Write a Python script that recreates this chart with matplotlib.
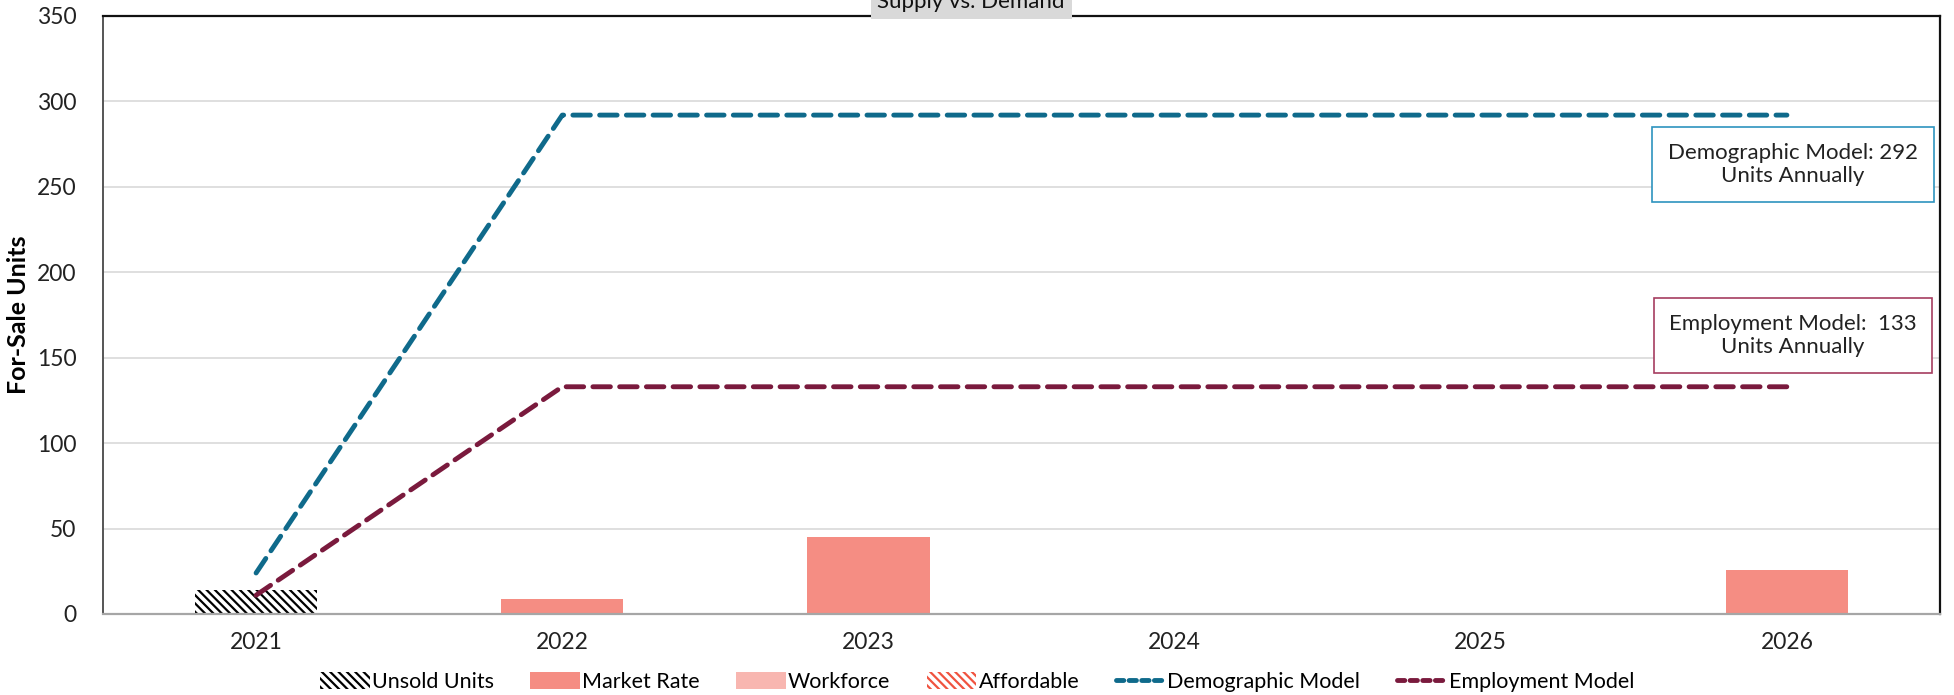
import matplotlib
matplotlib.use("Agg")
import matplotlib.pyplot as plt
from matplotlib.patches import Patch
from matplotlib.lines import Line2D
import numpy as np

plt.rcParams['font.family'] = ['Lato', 'DejaVu Sans']
plt.rcParams['hatch.linewidth'] = 1.6

years = ['2021', '2022', '2023', '2024', '2025', '2026']
unsold = [14, 0, 0, 0, 0, 0]
market_rate = [0, 9, 45, 0, 0, 26]
workforce = [0, 0, 0, 0, 0, 0]
affordable = [0, 0, 0, 0, 0, 0]
demographic = [24, 292, 292, 292, 292, 292]
employment = [11, 133, 133, 133, 133, 133]

c_market = '#F58D83'
c_work = '#F8B6B0'
c_aff = '#F0533F'
c_demo = '#0F6A8B'
c_emp = '#7A1A3D'

fig = plt.figure(figsize=(19.54, 6.95), dpi=100)
ax = fig.add_axes([103 / 1954, 1 - 614 / 695, (1940 - 103) / 1954, (614 - 16) / 695])

x = np.arange(len(years))
w = 0.4
ax.bar(x, unsold, w, color='white', edgecolor='black', hatch='\\\\\\\\', linewidth=0, zorder=2)
b = np.array(unsold, dtype=float)
ax.bar(x, market_rate, w, bottom=b, color=c_market, linewidth=0, zorder=2)
b += market_rate
ax.bar(x, workforce, w, bottom=b, color=c_work, linewidth=0, zorder=2)
b += workforce
ax.bar(x, affordable, w, bottom=b, color='white', edgecolor=c_aff, hatch='\\\\\\\\', linewidth=0, zorder=2)

ax.plot(x, demographic, color=c_demo, lw=3.5, dashes=(3.6, 1.9), dash_capstyle='round', zorder=3)
ax.plot(x, employment, color=c_emp, lw=3.5, dashes=(3.6, 1.9), dash_capstyle='round', zorder=3)

ax.set_xlim(-0.5, 5.5)
ax.set_ylim(0, 350)
ax.set_yticks(np.arange(0, 351, 50))
ax.set_xticks(x)
ax.set_xticklabels(years)
ax.tick_params(axis='both', length=0, labelsize=16.5, colors='#222222')
ax.tick_params(axis='x', pad=13)
ax.tick_params(axis='y', pad=19)
ax.yaxis.grid(True, color='#d9d9d9', lw=1.2, zorder=0)
ax.set_axisbelow(True)
for s in ['top', 'right']:
    ax.spines[s].set_color('#111111')
    ax.spines[s].set_linewidth(1.6)
ax.spines['left'].set_color('#555555')
ax.spines['left'].set_linewidth(1.4)
ax.spines['bottom'].set_color('#a6a6a6')
ax.spines['bottom'].set_linewidth(1.6)

ax.set_ylabel('For-Sale Units', fontsize=18, fontweight='bold')
ax.yaxis.set_label_coords(-0.0395, 0.5)

ax.text(5.02, 263, 'Demographic Model: 292\nUnits Annually', ha='center', va='center',
        fontsize=16, color='#222222', linespacing=1.2, zorder=4,
        bbox=dict(boxstyle='square,pad=0.7', fc='white', ec='#2E93BF', lw=1.2))
ax.text(5.02, 163, 'Employment Model:  133\nUnits Annually', ha='center', va='center',
        fontsize=16, color='#222222', linespacing=1.2, zorder=4,
        bbox=dict(boxstyle='square,pad=0.7', fc='white', ec='#A63D60', lw=1.2))

fig.text(0.497, 1 - 2 / 695, 'Supply vs. Demand', ha='center', va='center', fontsize=16,
         color='#111111', bbox=dict(boxstyle='square,pad=0.3', fc='#d9d9d9', ec='none'))

handles = [
    Patch(facecolor='white', edgecolor='black', hatch='\\\\\\\\', linewidth=0, label='Unsold Units'),
    Patch(facecolor=c_market, label='Market Rate'),
    Patch(facecolor=c_work, label='Workforce'),
    Patch(facecolor='white', edgecolor=c_aff, hatch='\\\\\\\\', linewidth=0, label='Affordable'),
    Line2D([], [], color=c_demo, lw=3.5, dashes=(1.5, 1.1), dash_capstyle='round', label='Demographic Model'),
    Line2D([], [], color=c_emp, lw=3.5, dashes=(1.5, 1.1), dash_capstyle='round', label='Employment Model'),
]
fig.legend(handles=handles, loc='center', bbox_to_anchor=(0.5, 1 - 682 / 695), ncol=6,
           frameon=False, fontsize=15.5, handlelength=2.3, handleheight=0.8,
           handletextpad=0.1, columnspacing=1.7)

fig.savefig('out.png', dpi=100)
